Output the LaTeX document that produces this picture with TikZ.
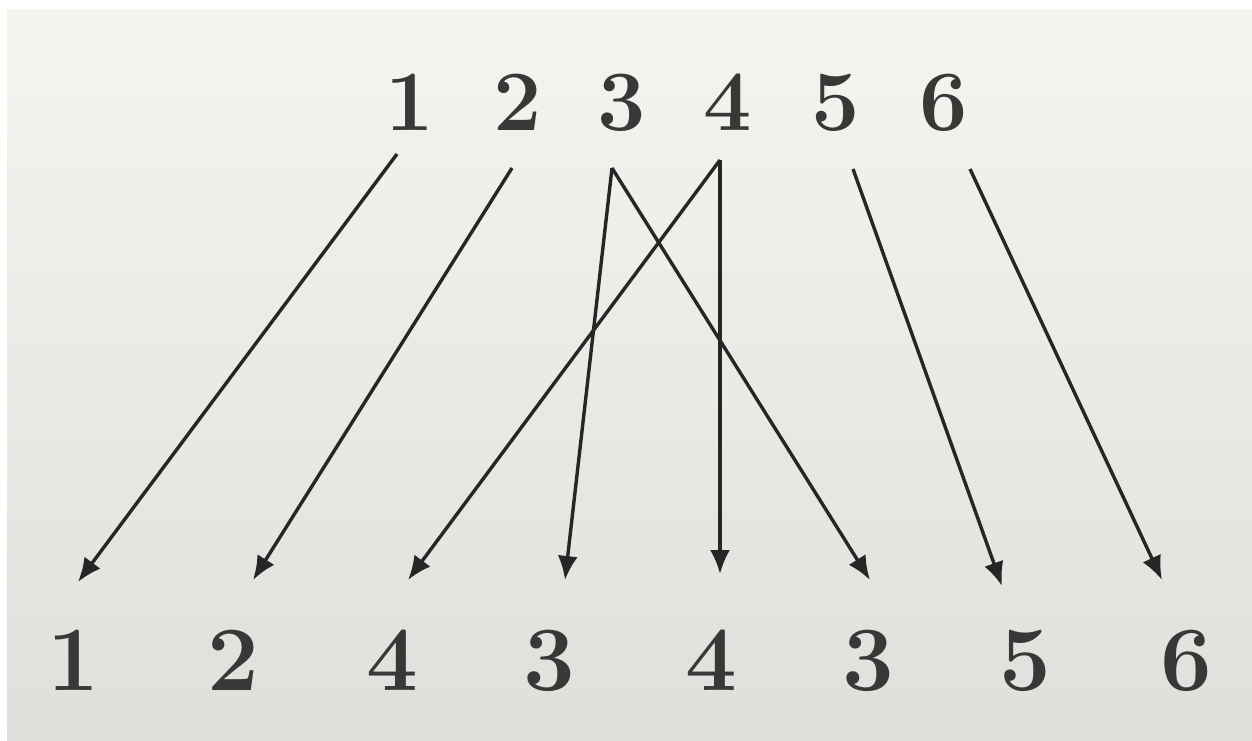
\documentclass[tikz,border=0pt]{standalone}
\usetikzlibrary{arrows.meta}
\definecolor{bgtop}{HTML}{F5F4EF}
\definecolor{bgbot}{HTML}{E0DFDB}
\definecolor{ink}{HTML}{262626}
\definecolor{digit}{HTML}{383838}
\begin{document}
\begin{tikzpicture}[x=1pt,y=-1pt,
  topnum/.style={text=digit,font=\fontsize{86}{86}\selectfont\bfseries,inner sep=0pt,anchor=base},
  botnum/.style={text=digit,font=\fontsize{92}{92}\selectfont\bfseries,inner sep=0pt,anchor=base},
  arr/.style={draw=ink,line width=3.4pt,-{Latex[length=24pt,width=20pt]}}]
\useasboundingbox (0,0) rectangle (1252,740);
\fill[white] (0,0) rectangle (1252,740);
\shade[top color=bgtop,bottom color=bgbot] (7,9) rectangle (1252,740);
% top row
\node[topnum] (t1) at (410,130) {1};
\node[topnum] (t2) at (518,130) {2};
\node[topnum] (t3) at (622,130) {3};
\node[topnum] (t4) at (728,130) {4};
\node[topnum] (t5) at (836,130) {5};
\node[topnum] (t6) at (944,130) {6};
% bottom row
\node[botnum] (b1) at (73,690) {1};
\node[botnum] (b2) at (233,690) {2};
\node[botnum] (b3) at (392,690) {4};
\node[botnum] (b4) at (549,690) {3};
\node[botnum] (b5) at (711,690) {4};
\node[botnum] (b6) at (868,690) {3};
\node[botnum] (b7) at (1025,690) {5};
\node[botnum] (b8) at (1186,690) {6};
% arrow ends
\coordinate (s1) at (397,154);
\coordinate (s2) at (512,168);
\coordinate (s3) at (612,168);
\coordinate (s4) at (720,160);
\coordinate (s5) at (853,169);
\coordinate (s6) at (970,169);
\coordinate (e1) at (78,582);
\coordinate (e2) at (253,580);
\coordinate (e3) at (408,580);
\coordinate (e4) at (565,580);
\coordinate (e5) at (720,574);
\coordinate (e6) at (870,580);
\coordinate (e7) at (1002,586);
\coordinate (e8) at (1162,580);
\draw[arr] (s1) -- (e1);
\draw[arr] (s2) -- (e2);
\draw[arr] (s4) -- (e3);
\draw[arr] (s3) -- (e4);
\draw[arr] (s4) -- (e5);
\draw[arr] (s3) -- (e6);
\draw[arr] (s5) -- (e7);
\draw[arr] (s6) -- (e8);
\end{tikzpicture}
\end{document}
